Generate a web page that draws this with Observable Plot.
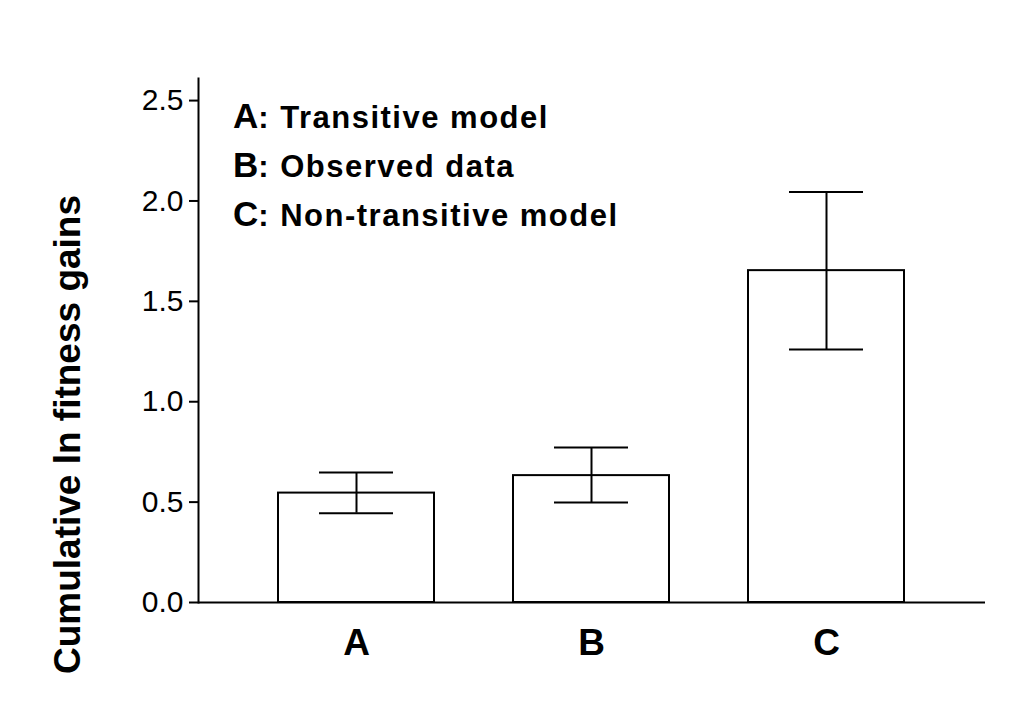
<!DOCTYPE html>
<html><head><meta charset="utf-8">
<script src="https://cdn.jsdelivr.net/npm/d3@7"></script>
<script src="https://cdn.jsdelivr.net/npm/@observablehq/plot@0.6"></script>
<style>
body{margin:0;background:#fff;font-family:"Liberation Sans",Arial,sans-serif}
#wrap{position:relative;width:1018px;height:714px}
#legend{position:absolute;left:233px;top:92px;font-weight:bold;font-size:31px;letter-spacing:1.5px;line-height:47px;color:#000}
#legend b{font-size:35px;letter-spacing:0}
</style></head><body>
<div id="wrap"><div id="chart"></div>
<div id="legend">
<div><b>A</b>: Transitive model</div>
<div><b>B</b>: Observed data</div>
<div><b>C</b>: Non-transitive model</div>
</div></div>
<script>
const categories = ["A","B","C"];
const means = [0.545, 0.632, 1.653];
const lower = [0.445, 0.498, 1.26];
const upper = [0.647, 0.772, 2.045];
const yTicks = [0, 0.5, 1.0, 1.5, 2.0, 2.5];
const data = categories.map((c,i)=>({c, m:means[i], lo:lower[i], hi:upper[i]}));
const chart = Plot.plot({
  width:1018, height:714,
  marginLeft:198, marginRight:33, marginTop:78, marginBottom:112,
  style:{fontFamily:"Liberation Sans, Arial, sans-serif", color:"#000", background:"#fff"},
  x:{domain:categories, padding:0.335, label:null},
  y:{domain:[0,2.61], label:null},
  marks:[
    Plot.barY(data,{x:"c", y:"m", fill:"white", stroke:"black", strokeWidth:2}),
    Plot.ruleX(data,{x:"c", y1:"lo", y2:"hi", stroke:"black", strokeWidth:2}),
    Plot.tickY(data,{x:"c", y:"lo", stroke:"black", strokeWidth:2, insetLeft:41, insetRight:41}),
    Plot.tickY(data,{x:"c", y:"hi", stroke:"black", strokeWidth:2, insetLeft:41, insetRight:41}),
    Plot.axisY({ticks:yTicks, tickFormat:d3.format(".1f"), tickSize:9, tickPadding:6, fontSize:30, label:null, strokeWidth:2}),
    Plot.axisX({tickSize:0, tickPadding:26, fontSize:37, fontWeight:"bold", label:null}),
    Plot.frame({anchor:"left", strokeWidth:2}),
    Plot.ruleY([0], {strokeWidth:2}),
    Plot.text(["Cumulative ln fitness gains"],{frameAnchor:"left", dx:-130, dy:94, rotate:-90, fontSize:37, fontWeight:"bold", textAnchor:"middle"})
  ]
});
document.getElementById("chart").append(chart);
</script></body></html>
